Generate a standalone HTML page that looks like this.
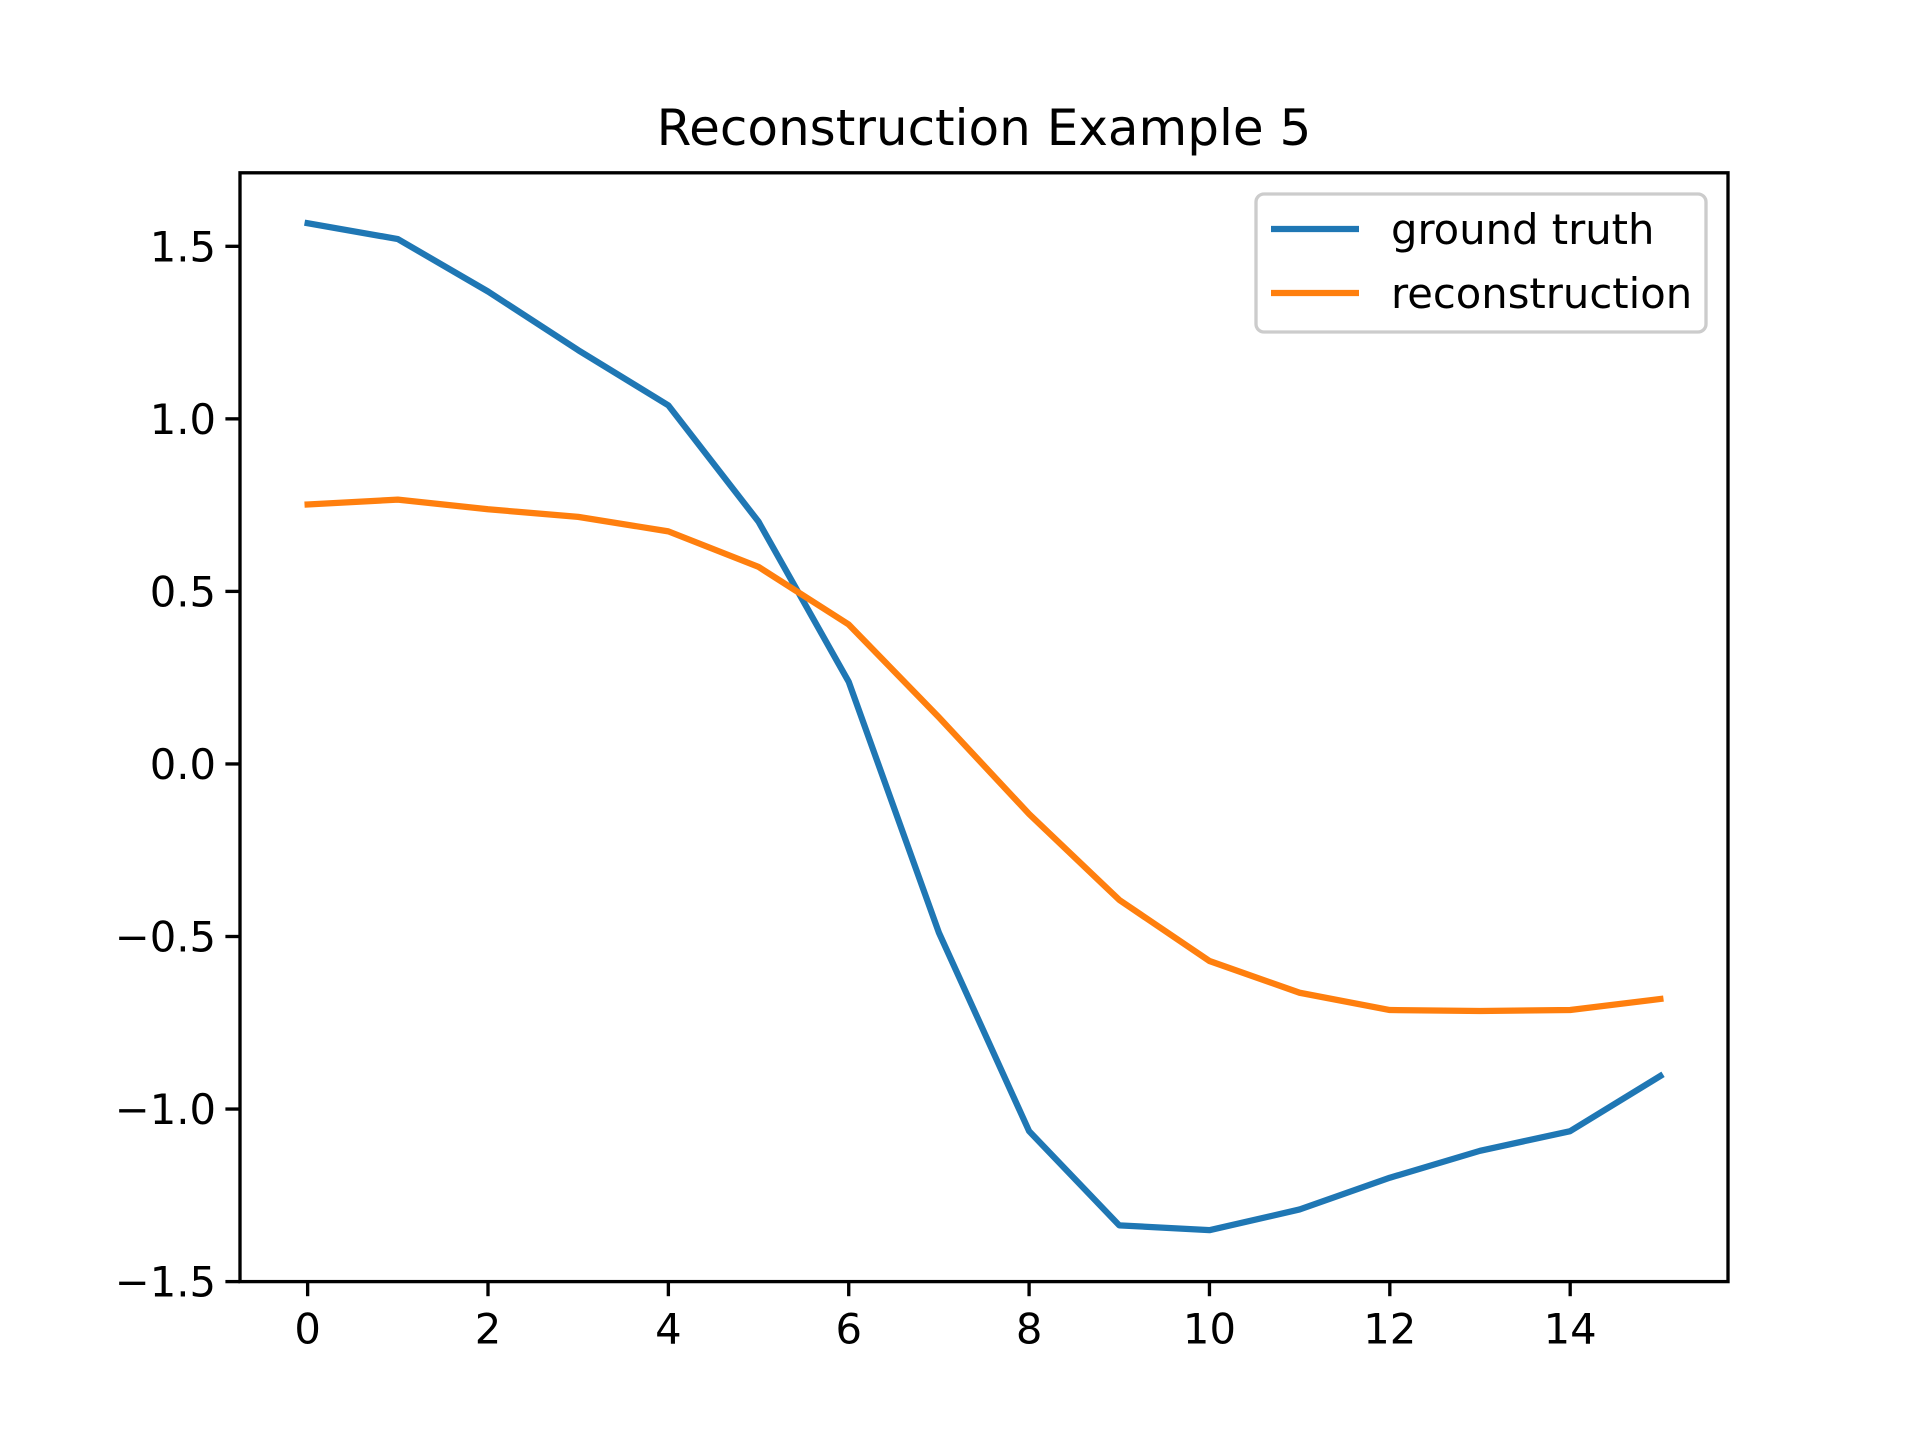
<!DOCTYPE html>
<html><head><meta charset="utf-8"><style>html,body{margin:0;padding:0;background:#fff}svg{display:block}</style></head>
<body>
<svg id="chart" width="1920" height="1440" xmlns="http://www.w3.org/2000/svg" font-family="'DejaVu Sans','Liberation Sans',sans-serif">
<rect width="1920" height="1440" fill="#fff"/>
<text x="984" y="145" font-size="50" text-anchor="middle">Reconstruction Example 5</text>
<g id="plot"></g>
</svg>
<script>
const xValues = [0,1,2,3,4,5,6,7,8,9,10,11,12,13,14,15];
const groundTruth = [1.567,1.521,1.369,1.199,1.039,0.702,0.238,-0.489,-1.064,-1.337,-1.351,-1.291,-1.199,-1.121,-1.064,-0.904];
const reconstruction = [0.752,0.766,0.738,0.716,0.674,0.571,0.404,0.135,-0.145,-0.394,-0.571,-0.663,-0.713,-0.716,-0.713,-0.681];
const xTicks = [0,2,4,6,8,10,12,14];
const yTicks = [-1.5,-1.0,-0.5,0.0,0.5,1.0,1.5];
const yTickLabels = ["\u22121.5","\u22121.0","\u22120.5","0.0","0.5","1.0","1.5"];

const L=240,R=1728,T=172.8,B=1281.6;
const xMin=-0.75,xMax=15.75,yMin=-1.5,yMax=1.713;
const sx=v=>L+(v-xMin)/(xMax-xMin)*(R-L);
const sy=v=>B-(v-yMin)/(yMax-yMin)*(B-T);
const NS="http://www.w3.org/2000/svg";
const g=document.getElementById('plot');
function mk(tag,attrs,parent){const e=document.createElementNS(NS,tag);for(const k in attrs)e.setAttribute(k,attrs[k]);(parent||g).appendChild(e);return e;}

function series(vals,color,name){
  const p=mk('polyline',{points:vals.map((v,i)=>sx(xValues[i])+','+sy(v)).join(' '),fill:'none',stroke:color,'stroke-width':6.25,'stroke-linejoin':'round','stroke-linecap':'square'});
  
  
}
series(groundTruth,'#1f77b4','ground-truth-line');
series(reconstruction,'#ff7f0e','reconstruction-line');

xTicks.forEach((t,i)=>{
  const l=mk('line',{x1:sx(t),x2:sx(t),y1:B,y2:B+14.6,stroke:'#000','stroke-width':3.33});
  
  
  const tx=mk('text',{x:sx(t),y:B+62,'font-size':41.7,'text-anchor':'middle'});
  tx.textContent=t;
  
  
});
yTicks.forEach((t,i)=>{
  const l=mk('line',{x1:L-14.6,x2:L,y1:sy(t),y2:sy(t),stroke:'#000','stroke-width':3.33});
  
  
  const tx=mk('text',{x:L-24,y:sy(t)+15,'font-size':41.7,'text-anchor':'end'});
  tx.textContent=yTickLabels[i];
  
  
});
const frame=mk('rect',{x:L,y:T,width:R-L,height:B-T,fill:'none',stroke:'#000','stroke-width':3.33});



const lg=mk('g',{});


mk('rect',{x:1256,y:194,width:450,height:138,rx:8,fill:'#fff','fill-opacity':0.8,stroke:'#ccc','stroke-width':3.33},lg);
const entries=[['ground truth','#1f77b4',229],['reconstruction','#ff7f0e',293]];
entries.forEach(e=>{
  const ln=mk('line',{x1:1271,x2:1359,y1:e[2],y2:e[2],stroke:e[1],'stroke-width':6.25},lg);
  
  
  const tx=mk('text',{x:1391,y:e[2]+15,'font-size':41.7},lg);
  tx.textContent=e[0];
  
  
});
</script>
</body></html>
